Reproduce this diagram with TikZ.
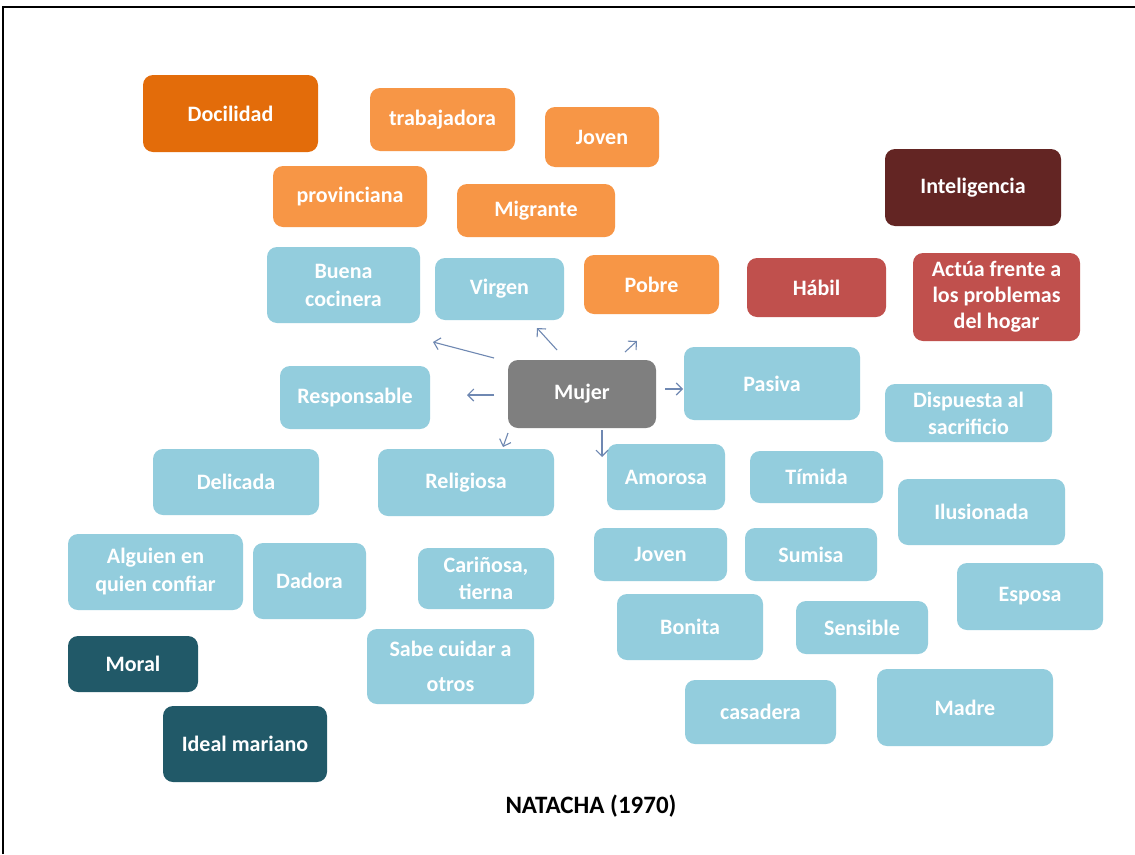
\documentclass[tikz,border=0pt]{standalone}
\usepackage{fontspec}
\setmainfont{Carlito}
\usetikzlibrary{arrows.meta}

\definecolor{ornDark}{HTML}{E36C0A}
\definecolor{ornLight}{HTML}{F79646}
\definecolor{redDark}{HTML}{632523}
\definecolor{redMid}{HTML}{C0504D}
\definecolor{skyBox}{HTML}{93CDDD}
\definecolor{tealBox}{HTML}{215968}
\definecolor{greyBox}{HTML}{7F7F7F}
\definecolor{linkBlue}{HTML}{6F88B2}

\begin{document}
\begin{tikzpicture}[x=1pt,y=-1pt,
  tag/.style={rounded corners=10pt, inner sep=0pt, text=white, align=center,
    font=\fontsize{22}{27}\selectfont\bfseries},
  sz/.style 2 args={minimum width=#1pt, minimum height=#2pt},
  orangeA/.style={tag, fill=ornDark},
  orangeB/.style={tag, fill=ornLight},
  redA/.style={tag, fill=redDark},
  redB/.style={tag, fill=redMid},
  sky/.style={tag, fill=skyBox},
  teal/.style={tag, fill=tealBox},
  centre/.style={tag, fill=greyBox},
  link/.style={draw=linkBlue, line width=1.1pt, -{Straight Barb[length=6pt,width=12pt]}}
]
\useasboundingbox (0,0) rectangle (1135,854);
\fill[white] (0,0) rectangle (1135,854);

% frame
\draw[line width=2pt] (3,854) -- (3,7) -- (1135,7);

% orange group
\node[orangeA, sz={175}{77}] (docilidad) at (230.5,113.5) {Docilidad};
\node[orangeB, sz={145}{63}] (trabajadora) at (442.5,119.5) {trabajadora};
\node[orangeB, sz={114}{60}] (jovenA) at (602,137) {Joven};
\node[orangeB, sz={154}{61}] (provinciana) at (350,196.5) {provinciana};
\node[orangeB, sz={158}{53}] (migrante) at (536,210.5) {Migrante};
\node[orangeB, sz={135}{59}] (pobre) at (651.5,284.5) {Pobre};

% red group
\node[redA, sz={176}{77}] (inteligencia) at (973,187.5) {Inteligencia};
\node[redB, sz={139}{59}] (habil) at (816.5,287.5) {Hábil};
\node[redB, sz={167}{88}, font=\fontsize{22}{26}\selectfont\bfseries] (actua) at (996.5,297) {Actúa frente a\\los problemas\\del hogar};

% blue group
\node[sky, sz={153}{76}, font=\fontsize{22}{28}\selectfont\bfseries] (buena) at (343.5,285) {Buena\\cocinera};
\node[sky, sz={129}{62}] (virgen) at (499.5,289) {Virgen};
\node[sky, sz={150}{63}] (responsable) at (355,397.5) {Responsable};
\node[centre, sz={148}{68}] (mujer) at (582,394) {Mujer};
\node[sky, sz={176}{73}] (pasiva) at (772,383.5) {Pasiva};
\node[sky, sz={167}{58}] (dispuesta) at (968.5,413) {Dispuesta al\\sacrificio};
\node[sky, sz={166}{66}] (delicada) at (236,482) {Delicada};
\node[sky, sz={176}{67}] (religiosa) at (466,482.5) {Religiosa};
\node[sky, sz={118}{66}] (amorosa) at (666,477) {Amorosa};
\node[sky, sz={133}{52}] (timida) at (816.5,477) {Tímida};
\node[sky, sz={167}{66}] (ilusionada) at (981.5,512) {Ilusionada};
\node[sky, sz={175}{76}, font=\fontsize{22}{28}\selectfont\bfseries] (alguien) at (155.5,572) {Alguien en\\quien confiar};
\node[sky, sz={113}{76}] (dadora) at (309.5,581) {Dadora};
\node[sky, sz={136}{61}] (carinosa) at (486,578.5) {Cariñosa,\\tierna};
\node[sky, sz={133}{53}] (jovenB) at (660.5,554.5) {Joven};
\node[sky, sz={132}{53}] (sumisa) at (811,554.5) {Sumisa};
\node[sky, sz={146}{67}] (esposa) at (1030,596.5) {Esposa};
\node[sky, sz={146}{66}] (bonita) at (690,627) {Bonita};
\node[sky, sz={132}{53}] (sensible) at (862,627.5) {Sensible};
\node[sky, sz={167}{75}, font=\fontsize{22}{35}\selectfont\bfseries] (sabe) at (450.5,666.5) {Sabe cuidar a\\otros};
\node[sky, sz={151}{64}] (casadera) at (760.5,712) {casadera};
\node[sky, sz={176}{77}] (madre) at (965,707.5) {Madre};

% teal group
\node[teal, sz={130}{56}] (moral) at (133,664) {Moral};
\node[teal, sz={164}{76}] (ideal) at (245,744) {Ideal mariano};

% title
\node[font=\fontsize{25}{28}\selectfont\bfseries] (title) at (591,806) {NATACHA (1970)};

% arrows leaving the central node
\coordinate (s1) at (494,358); \coordinate (e1) at (433,342);
\coordinate (s2) at (557,350); \coordinate (e2) at (537,328);
\coordinate (s3) at (625,352); \coordinate (e3) at (637,341);
\coordinate (s4) at (494,395); \coordinate (e4) at (467,395);
\coordinate (s5) at (665,389); \coordinate (e5) at (683,389);
\coordinate (s6) at (508,433); \coordinate (e6) at (503,447);
\coordinate (s7) at (602,430); \coordinate (e7) at (602,457);
\foreach \i in {1,...,7} \draw[link] (s\i) -- (e\i);
\end{tikzpicture}
\end{document}
